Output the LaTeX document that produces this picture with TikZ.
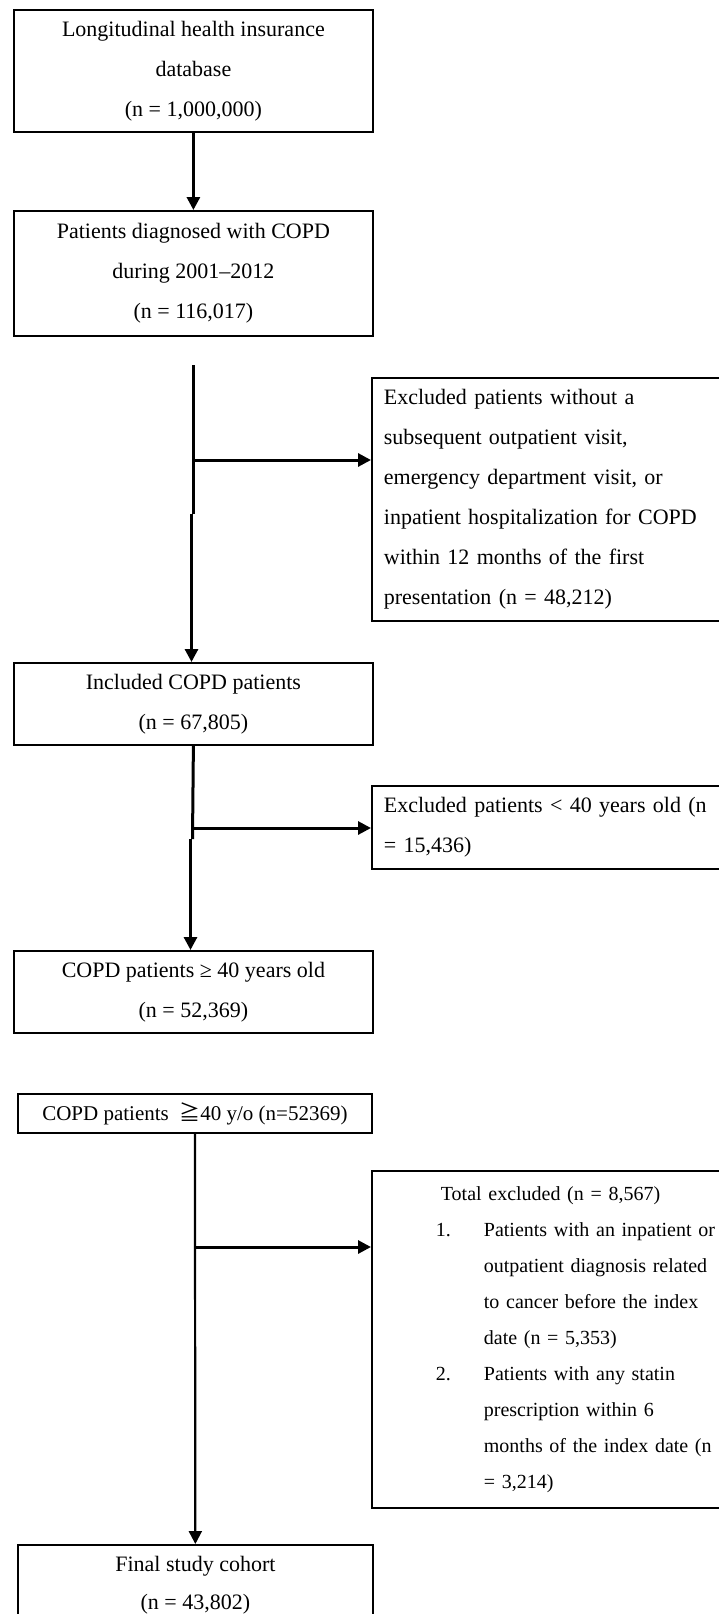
\documentclass[tikz,border=0pt]{standalone}
\usepackage{fontspec}
\setmainfont{Liberation Serif}
\newfontfamily\cjkfont{Noto Sans CJK TC}
\usetikzlibrary{arrows.meta, positioning}

\begin{document}
\begin{tikzpicture}[
        x=1pt, y=-1pt,
        box/.style={
            rectangle,
            draw=black,
            line width=1.8pt,
            inner sep=0pt,
            minimum width=359pt,
            align=center,
            font=\fontsize{22}{40}\selectfont
        },
        sidebox/.style={
            rectangle,
            draw=black,
            line width=1.8pt,
            inner xsep=12pt,
            inner ysep=0pt,
            text width=340pt,
            align=left,
            font=\fontsize{22}{40}\selectfont
        },
        trunk/.style={line width=3pt},
        arrow/.style={-{Triangle[length=13pt, width=13pt]}, line width=3pt},
        thinarrow/.style={-{Triangle[length=13pt, width=13pt]}, line width=2.2pt}
    ]

    \useasboundingbox (0,0) rectangle (719,1614);
    \clip (0,0) rectangle (719,1614);

    % first part
    \node (db) [box, minimum height=122pt, anchor=north west] at (13,9) {Longitudinal health insurance\\database\\(n = 1,000,000)};
    \node (copd) [box, minimum height=125pt, anchor=north west] at (13,210) {Patients diagnosed with COPD\\during 2001--2012\\(n = 116,017)};
    \node (excl1) [sidebox, minimum height=243pt, anchor=north west] at (371,377) {Excluded patients without a\\subsequent outpatient visit,\\emergency department visit, or\\inpatient hospitalization for COPD\\within 12 months of the first\\presentation (n = 48,212)};
    \node (incl) [box, minimum height=82pt, anchor=north west] at (13,662) {Included COPD patients\\(n = 67,805)};
    \node (excl2) [sidebox, minimum height=83pt, anchor=north west] at (371,785) {Excluded patients < 40 years old (n\\= 15,436)};
    \node (old40) [box, minimum height=82pt, anchor=north west] at (13,950) {COPD patients ≥ 40 years old\\(n = 52,369)};

    % second part
    \node (cohort) [box, minimum width=354pt, minimum height=39pt, font=\fontsize{21}{38}\selectfont, anchor=north west] at (17,1093) {COPD patients \ {\cjkfont ≧}40 y/o (n=52369)};
    \node (excl3) [sidebox, minimum height=337pt, font=\fontsize{20}{36}\selectfont, anchor=north west] at (371,1170) {%
        \hspace*{57pt}Total excluded (n = 8,567)\\
        \hspace*{52pt}\makebox[48pt][l]{1.}\makebox[232pt][s]{Patients with an inpatient or}\\
        \hspace*{100pt}\makebox[232pt][s]{outpatient diagnosis related}\\
        \hspace*{100pt}\makebox[232pt][s]{to cancer before the index}\\
        \hspace*{100pt}date (n = 5,353)\\
        \hspace*{52pt}\makebox[48pt][l]{2.}Patients with any statin\\
        \hspace*{100pt}prescription within 6\\
        \hspace*{100pt}months of the index date (n\\
        \hspace*{100pt}= 3,214)};
    \node (final) [box, minimum width=355pt, minimum height=80pt, font=\fontsize{22}{38}\selectfont, anchor=north west] at (17,1544) {Final study cohort\\(n = 43,802)};

    \coordinate (split1) at (193,365);
    \coordinate (fork1) at (193,460);
    \coordinate (kink1) at (193,514);
    \coordinate (fork2) at (192.5,828);
    \coordinate (kink2) at (192.5,839);
    \coordinate (fork3) at (194,1247);

    \draw [arrow] (db) -- (copd);
    \draw [trunk] (split1) -- (kink1);
    \draw [arrow] ([xshift=-1.5pt]kink1) -- ([xshift=-1.5pt]kink1 |- incl.north);
    \draw [arrow] (fork1) -- (fork1 -| excl1.west);

    \draw [trunk] (incl.south) -- (kink2);
    \draw [arrow] ([xshift=-2pt]kink2) -- ([xshift=-2pt]kink2 |- old40.north);
    \draw [arrow] (fork2) -- (fork2 -| excl2.west);

    \draw [thinarrow] (cohort) -- (final);
    \draw [arrow] (fork3) -- (fork3 -| excl3.west);

\end{tikzpicture}
\end{document}
